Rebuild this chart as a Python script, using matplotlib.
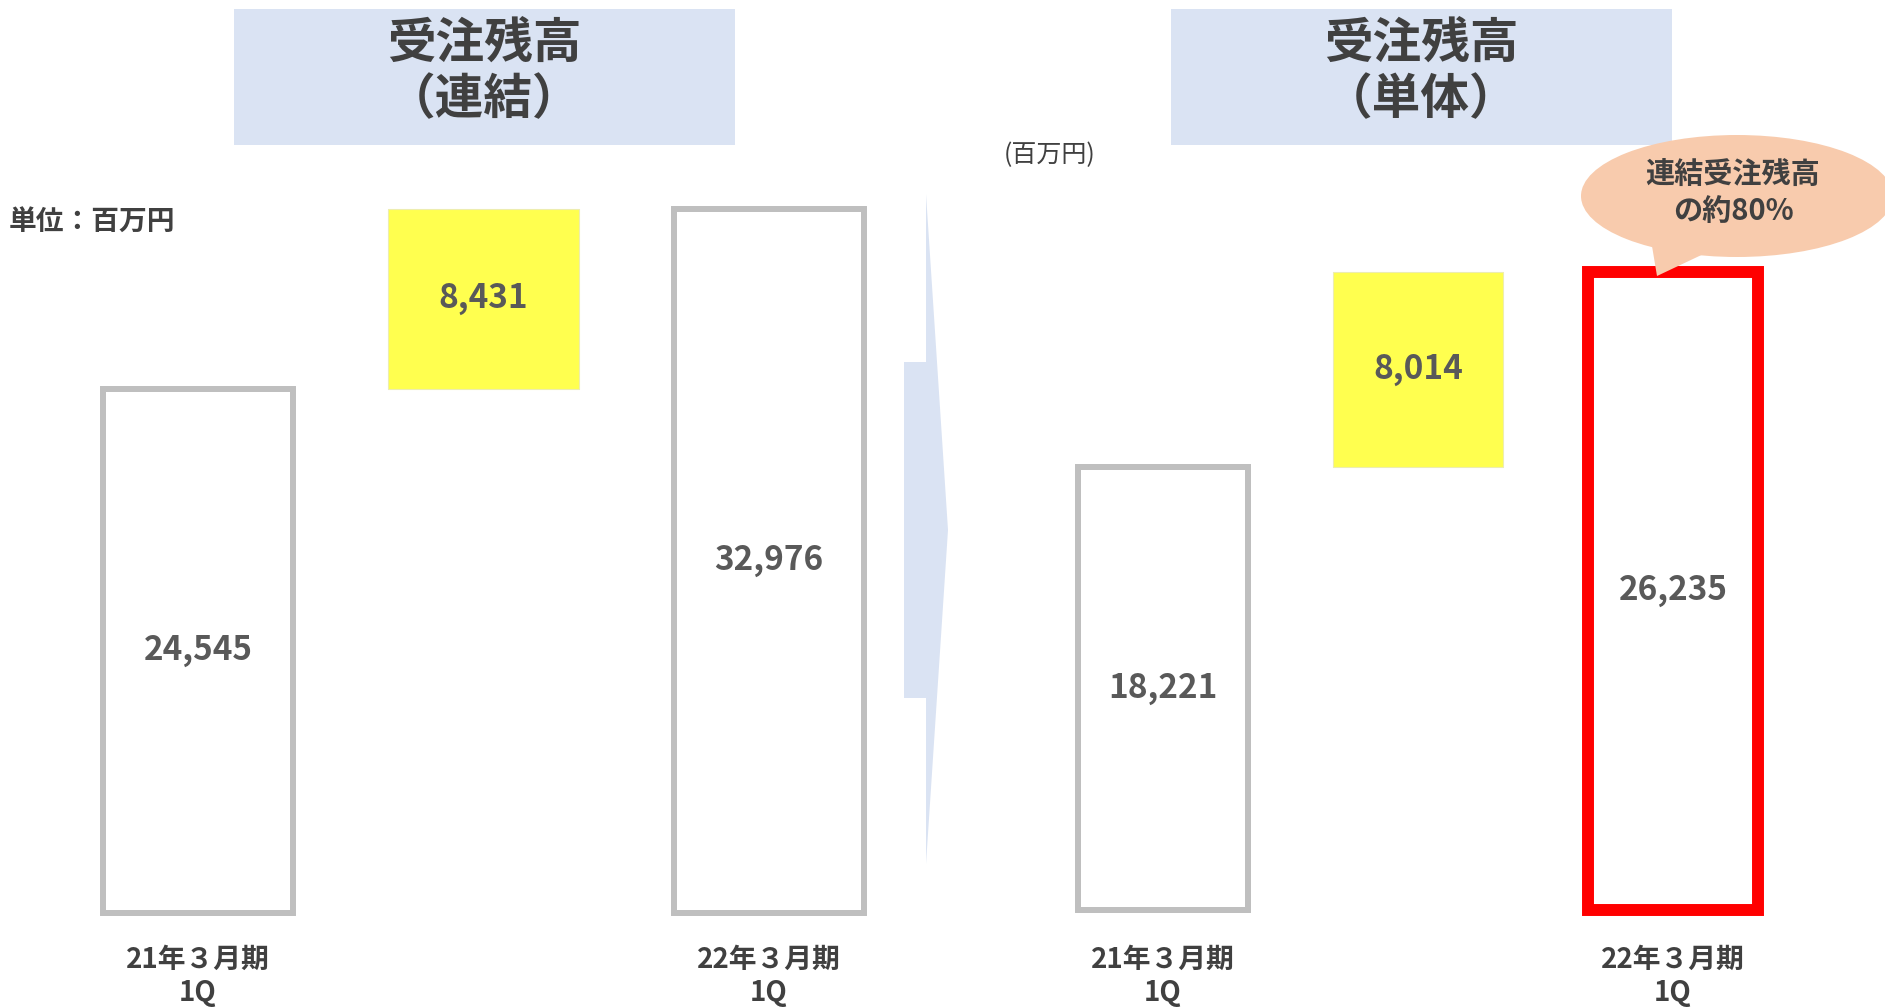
import matplotlib.pyplot as plt
from matplotlib.patches import Rectangle, Ellipse, Polygon

plt.rcParams['font.family'] = ['Noto Sans CJK JP', 'DejaVu Sans']

# data (百万円)
periods = ["21年３月期\n1Q", "", "22年３月期\n1Q"]
cons_start = 24545      # 連結 21年3月期1Q
cons_increase = 8431
cons_end = 32976        # 連結 22年3月期1Q
solo_start = 18221      # 単体 21年3月期1Q
solo_increase = 8014
solo_end = 26235        # 単体 22年3月期1Q

TXT = "#404040"
NUM = "#595959"
GREY = "#BFBFBF"
YELLOW = "#FFFF4F"
PALE = "#DAE3F3"

W, H = 1885, 1008
fig = plt.figure(figsize=(W / 100, H / 100), dpi=100)


def panel(rect, ymax, start, inc, end, end_color, end_lw, pad):
    ax = fig.add_axes(rect)
    ax.set_xlim(-0.5, 2.5)
    ax.set_ylim(0, ymax)
    for s in ax.spines.values():
        s.set_visible(False)
    ax.set_yticks([])
    w = 0.668
    b1 = ax.bar(0, start, width=w, facecolor="white", edgecolor=GREY, linewidth=4.3, clip_on=False)
    b2 = ax.bar(1, inc, bottom=start, width=w, color=YELLOW, edgecolor="#EDEDB0", linewidth=0.8, clip_on=False)
    b3 = ax.bar(2, end, width=w, facecolor="white", edgecolor=end_color, linewidth=end_lw, clip_on=False)
    for bars, v in ((b1, start), (b2, inc), (b3, end)):
        ax.bar_label(bars, labels=[f"{v:,}"], label_type="center", fontsize=24,
                     fontweight="bold", color=NUM)
    ax.set_xticks([0, 1, 2])
    ax.set_xticklabels(periods, fontsize=20, fontweight="bold", color=TXT, linespacing=1.2)
    ax.tick_params(axis="x", length=0, pad=pad)
    return ax


# 連結 (left)
panel([55.25 / W, (H - 913) / H, 856.5 / W, 763 / H], 763 / 0.02135,
      cons_start, cons_increase, cons_end, GREY, 4.3, 24)
# 単体 (right)
panel([1035.5 / W, (H - 910) / H, 765 / W, 760 / H], 760 / 0.02433,
      solo_start, solo_increase, solo_end, "#FF0000", 8.6, 26)

# decoration layer in pixel coordinates
deco = fig.add_axes([0, 0, 1, 1], zorder=5)
deco.set_xlim(0, W)
deco.set_ylim(H, 0)
deco.axis("off")
deco.patch.set_alpha(0)

for x0, sub in ((234, "（連結）"), (1171, "（単体）")):
    deco.add_patch(Rectangle((x0, 9), 501, 136, color=PALE, lw=0))
    deco.text(x0 + 250, 43, "受注残高", ha="center", va="center", fontsize=35,
              fontweight="bold", color=TXT)
    deco.text(x0 + 250, 100, sub, ha="center", va="center", fontsize=35,
              fontweight="bold", color=TXT)

# arrow between panels
deco.add_patch(Polygon([(904, 362), (926, 362), (926, 194), (948, 530),
                        (926, 864), (926, 698), (904, 698)], closed=True,
                       color=PALE, lw=0))

deco.text(9, 223, "単位：百万円", ha="left", va="center", fontsize=20,
          fontweight="bold", color=TXT)
deco.text(1004, 155, "(百万円)", ha="left", va="center", fontsize=18, color=TXT)

# speech bubble
PEACH = "#F8CBAD"
deco.add_patch(Ellipse((1737, 196), 312, 122, color=PEACH, lw=0))
deco.add_patch(Polygon([(1651, 240), (1657, 276), (1712, 250)], closed=True,
                       color=PEACH, lw=0))
deco.text(1733, 175, "連結受注残高", ha="center", va="center", fontsize=21,
          fontweight="bold", color=TXT)
deco.text(1733, 211, "の約80%", ha="center", va="center", fontsize=21,
          fontweight="bold", color=TXT)

fig.savefig("out.png", dpi=100)
